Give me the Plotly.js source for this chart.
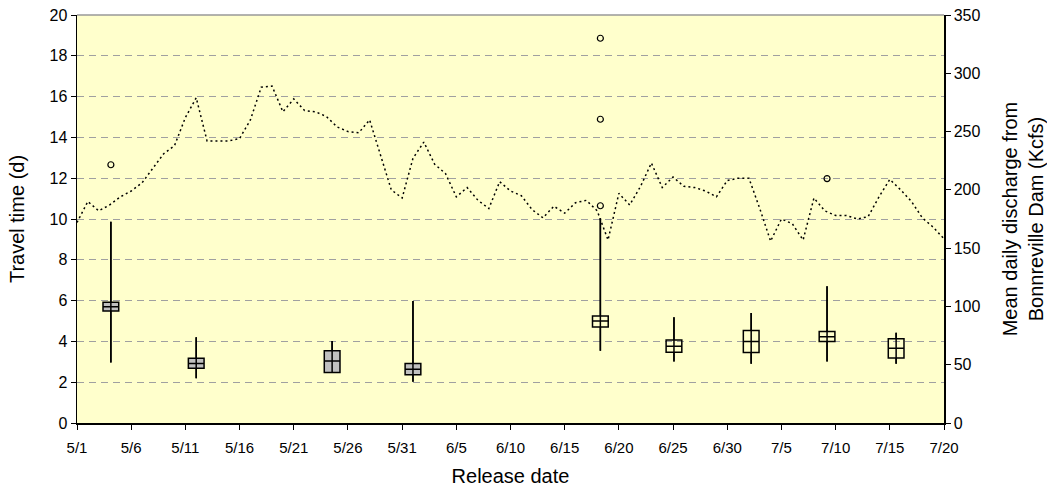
<!DOCTYPE html>
<html>
<head>
<meta charset="utf-8">
<script src="https://cdn.plot.ly/plotly-3.0.1.min.js"></script>
<style>
  body { margin: 0; background: #fff; }
  #chart { width: 1047px; height: 489px; }
</style>
</head>
<body>
<div id="chart"></div>
<script>
// release groups (box centres), travel time in days
var releaseDates = ['2002-05-04 03:00', '2002-05-12 00:00', '2002-05-24 13:00', '2002-06-01 00:00',
  '2002-06-18 07:00', '2002-06-25 02:00', '2002-07-02 05:00', '2002-07-09 05:00', '2002-07-15 14:00'];
var ttMin = [2.96, 2.19, 2.48, 2.02, 3.54, 3.01, 2.91, 3.02, 2.91];
var ttQ1 = [5.49, 2.68, 2.48, 2.37, 4.71, 3.47, 3.45, 3.99, 3.19];
var ttMedian = [5.70, 2.92, 3.04, 2.63, 5.00, 3.76, 3.99, 4.23, 3.66];
var ttQ3 = [5.92, 3.17, 3.54, 2.92, 5.25, 4.07, 4.54, 4.48, 4.13];
var ttMax = [9.87, 4.20, 4.02, 5.98, 10.03, 5.18, 5.39, 6.70, 4.43];
var shaded = [true, true, true, true, false, false, false, false, false];

var outlierDates = ['2002-05-04 03:00', '2002-06-18 07:00', '2002-06-18 07:00', '2002-06-18 07:00', '2002-07-09 05:00'];
var outlierValues = [12.66, 18.86, 14.89, 10.65, 11.98];

// mean daily discharge at Bonneville, 5/1 .. 7/20 (kcfs)
var flowStart = '2002-05-01';
var flowValues = [
  172, 190, 182, 187, 194, 199, 206, 219, 231, 238,
  262, 279, 242, 242, 242, 244, 260, 288, 289, 267,
  278, 268, 267, 263, 254, 250, 249, 260, 230, 200,
  193, 227, 241, 222, 214, 194, 202, 191, 184, 207,
  199, 195, 183, 176, 186, 180, 189, 191, 182, 157,
  197, 187, 203, 223, 202, 211, 203, 202, 199, 194,
  208, 210, 210, 184, 156, 175, 171, 157, 193, 182,
  178, 178, 175, 177, 194, 209, 200, 190, 176, 168,
  158
];

var tickDates = ['2002-05-01', '2002-05-06', '2002-05-11', '2002-05-16', '2002-05-21', '2002-05-26',
  '2002-05-31', '2002-06-05', '2002-06-10', '2002-06-15', '2002-06-20', '2002-06-25', '2002-06-30',
  '2002-07-05', '2002-07-10', '2002-07-15', '2002-07-20'];
var tickLabels = ['5/1', '5/6', '5/11', '5/16', '5/21', '5/26', '5/31', '6/5', '6/10', '6/15', '6/20',
  '6/25', '6/30', '7/5', '7/10', '7/15', '7/20'];

var DAY = 86400000;

function pick(arr, want) {
  return arr.filter(function(v, i) { return shaded[i] === want; });
}

function boxTrace(want, fill) {
  return {
    type: 'box',
    x: pick(releaseDates, want),
    q1: pick(ttQ1, want),
    median: pick(ttMedian, want),
    q3: pick(ttQ3, want),
    lowerfence: pick(ttMin, want),
    upperfence: pick(ttMax, want),
    width: 1.45 * DAY,
    whiskerwidth: 0,
    fillcolor: fill,
    line: { color: '#000', width: 1.5 },
    hoverinfo: 'skip',
    showlegend: false,
  };
}

var flowDates = flowValues.map(function(v, i) {
  var d = new Date(flowStart + 'T00:00:00Z');
  d.setUTCDate(d.getUTCDate() + i);
  return d.toISOString().slice(0, 10);
});

// whisker lines drawn through the boxes
var wx = [], wy = [];
releaseDates.forEach(function(d, i) {
  wx.push(d, d, null);
  wy.push(ttMin[i], ttMax[i], null);
});

var flowTrace = {
  type: 'scatter',
  mode: 'lines',
  x: flowDates,
  y: flowValues,
  yaxis: 'y2',
  line: { color: '#000', width: 1.5, dash: '2px,3px' },
  showlegend: false,
};

var whiskerTrace = {
  type: 'scatter',
  mode: 'lines',
  x: wx,
  y: wy,
  line: { color: '#000', width: 1.5 },
  connectgaps: false,
  showlegend: false,
};

var outlierTrace = {
  type: 'scatter',
  mode: 'markers',
  x: outlierDates,
  y: outlierValues,
  marker: { symbol: 'circle-open', size: 6, color: '#000', line: { width: 1.2 } },
  showlegend: false,
};

var data = [
  flowTrace,
  boxTrace(true, '#c0c0c0'),
  boxTrace(false, 'rgba(0,0,0,0)'),
  whiskerTrace,
  outlierTrace,
];

var fontFam = 'Liberation Sans, Arial, sans-serif';

var layout = {
  width: 1047,
  height: 489,
  margin: { l: 77, r: 103, t: 15, b: 66 },
  paper_bgcolor: '#fff',
  plot_bgcolor: '#ffffcc',
  font: { family: fontFam, color: '#000' },
  boxmode: 'overlay',
  xaxis: {
    type: 'date',
    range: ['2002-05-01', '2002-07-20'],
    tickvals: tickDates,
    ticktext: tickLabels,
    ticks: 'outside',
    ticklen: 5,
    tickcolor: '#000',
    ticklabelstandoff: 5,
    showline: true,
    linecolor: '#000',
    linewidth: 1.5,
    showgrid: false,
    zeroline: false,
    tickfont: { size: 15 },
    title: { text: 'Release date', font: { size: 20 }, standoff: 14 },
  },
  yaxis: {
    range: [0, 20],
    dtick: 2,
    ticks: 'outside',
    ticklen: 5,
    tickcolor: '#000',
    showline: true,
    linecolor: '#000',
    linewidth: 1.5,
    showgrid: true,
    gridcolor: '#a0a0a0',
    griddash: '7px,5px',
    gridwidth: 1,
    zeroline: false,
    tickfont: { size: 16 },
    title: { text: 'Travel time (d)', font: { size: 20 }, standoff: 19 },
  },
  yaxis2: {
    overlaying: 'y',
    side: 'right',
    range: [0, 350],
    dtick: 50,
    ticks: 'outside',
    ticklen: 5,
    tickcolor: '#000',
    showline: true,
    linecolor: '#000',
    linewidth: 1.5,
    showgrid: false,
    zeroline: false,
    tickfont: { size: 16 },
    title: { text: 'Mean daily discharge from<br>Bonnreville Dam (Kcfs)', font: { size: 20 }, standoff: 24 },
  },
  shapes: [
    { type: 'line', xref: 'paper', yref: 'paper', x0: 0, x1: 1, y0: 1, y1: 1,
      line: { color: '#999', width: 1.5 } },
  ],
};

Plotly.newPlot('chart', data, layout, { displayModeBar: false, staticPlot: true });
</script>
</body>
</html>
